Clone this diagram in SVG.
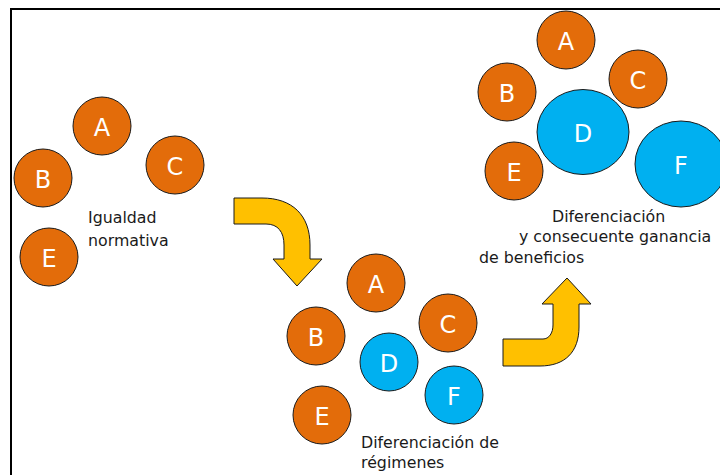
<svg xmlns="http://www.w3.org/2000/svg" width="720" height="475" viewBox="0 0 720 475">
<style>
.o{fill:#E36C0A;stroke:#1a1a1a;stroke-width:1}
.b{fill:#00B0F0;stroke:#1a1a1a;stroke-width:1}
.l{font-family:"DejaVu Sans",sans-serif;font-size:24px;fill:#fff;text-anchor:middle}
.t{font-family:"DejaVu Sans",sans-serif;font-size:15.8px;fill:#1a1a1a}
.arr{fill:#FFC000;stroke:#1a1a1a;stroke-width:1;stroke-linejoin:round}
</style>
<rect width="720" height="475" fill="#fff"/>
<path d="M11,475 L11,9 L720,9" fill="none" stroke="#000" stroke-width="2"/>
<g id="g1">
<g id="g1A"><circle class="o" cx="102" cy="126" r="29"/><text class="l" x="102" y="136">A</text></g>
<g id="g1B"><circle class="o" cx="43" cy="178" r="29"/><text class="l" x="43" y="188">B</text></g>
<g id="g1C"><circle class="o" cx="175" cy="165" r="29"/><text class="l" x="175" y="175">C</text></g>
<g id="g1E"><circle class="o" cx="49" cy="257" r="29"/><text class="l" x="49" y="267">E</text></g>
<g id="g1label"><text class="t" x="88" y="223">Igualdad</text><text class="t" x="88" y="246">normativa</text></g>
</g>
<g id="g2">
<g id="g2A"><circle class="o" cx="376" cy="283" r="29"/><text class="l" x="376" y="293">A</text></g>
<g id="g2B"><circle class="o" cx="316" cy="336" r="29"/><text class="l" x="316" y="346">B</text></g>
<g id="g2C"><circle class="o" cx="448" cy="323" r="29"/><text class="l" x="448" y="333">C</text></g>
<g id="g2D"><circle class="b" cx="389" cy="362" r="29"/><text class="l" x="389" y="372">D</text></g>
<g id="g2F"><circle class="b" cx="454" cy="395" r="29"/><text class="l" x="454" y="405">F</text></g>
<g id="g2E"><circle class="o" cx="322" cy="415" r="29"/><text class="l" x="322" y="425">E</text></g>
<g id="g2label"><text class="t" x="361" y="448">Diferenciación de</text><text class="t" x="361" y="468">régimenes</text></g>
</g>
<g id="g3">
<g id="g3A"><circle class="o" cx="566" cy="40" r="29"/><text class="l" x="566" y="50">A</text></g>
<g id="g3B"><circle class="o" cx="507" cy="92" r="29"/><text class="l" x="507" y="102">B</text></g>
<g id="g3C"><circle class="o" cx="638" cy="79" r="29"/><text class="l" x="638" y="89">C</text></g>
<g id="g3D"><ellipse class="b" cx="583" cy="132" rx="46" ry="42.5"/><text class="l" x="583" y="142">D</text></g>
<g id="g3E"><circle class="o" cx="514" cy="171" r="29"/><text class="l" x="514" y="181">E</text></g>
<g id="g3F"><ellipse class="b" cx="681" cy="164" rx="46" ry="43"/><text class="l" x="681" y="174">F</text></g>
<g id="g3label"><text class="t" x="552" y="222">Diferenciación</text><text class="t" x="519" y="242">y consecuente ganancia</text><text class="t" x="479" y="263">de beneficios</text></g>
</g>
<g id="connectors">
<path class="arr" d="M234,198 L262,198 C292,198 310,215 310,245 L310,259 L322,259 L297,286 L273,259 L284,259 L284,245 C284,232 278,224 266,224 L234,224 Z"/>
<path class="arr" d="M503,366 L540,366 C565,366 579,352 579,327 L579,304 L591,304 L567,278 L542,304 L553,304 L553,325 C553,333 549,339 543,339 L503,339 Z"/>
</g>
</svg>
